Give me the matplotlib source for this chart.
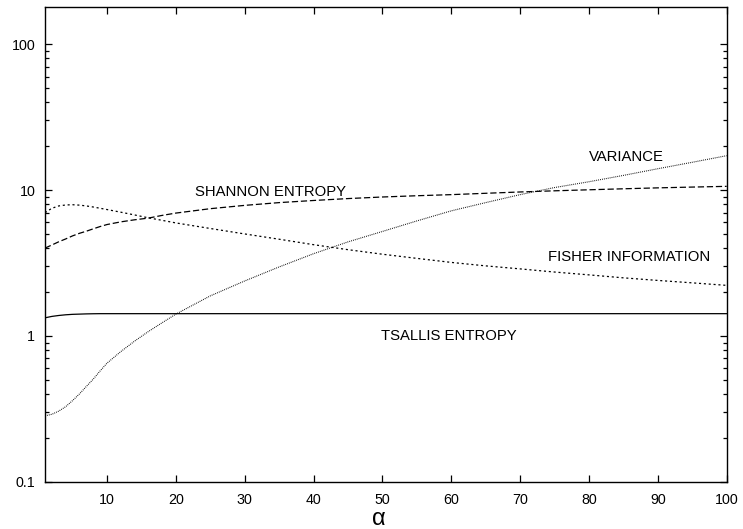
import matplotlib
matplotlib.use("Agg")
import matplotlib.pyplot as plt
from matplotlib.ticker import FixedLocator, FixedFormatter, LogLocator, NullFormatter

plt.rcParams['font.family'] = ['Liberation Sans', 'DejaVu Sans']
plt.rcParams['lines.scale_dashes'] = False

# alpha grid and the four measures
alpha = [1, 2, 3, 4, 5, 6, 7, 8, 9, 10, 12, 14, 16, 18, 20, 25, 30, 35, 40,
         45, 50, 55, 60, 65, 70, 75, 80, 85, 90, 95, 100]

tsallis = [1.33, 1.36, 1.38, 1.395, 1.405, 1.41, 1.415, 1.418, 1.42, 1.42,
           1.42, 1.42, 1.42, 1.42, 1.42, 1.42, 1.42, 1.42, 1.42, 1.42,
           1.42, 1.42, 1.42, 1.42, 1.42, 1.42, 1.42, 1.42, 1.42, 1.42, 1.42]

shannon = [4.0, 4.2, 4.42, 4.62, 4.85, 5.05, 5.22, 5.42, 5.62, 5.8, 6.05,
           6.25, 6.42, 6.7, 6.95, 7.45, 7.85, 8.2, 8.48, 8.74, 8.96,
           9.14, 9.3, 9.5, 9.7, 9.88, 10.04, 10.2, 10.35, 10.48, 10.6]

fisher = [7.0, 7.5, 7.78, 7.9, 7.93, 7.88, 7.78, 7.65, 7.5, 7.35, 7.05,
          6.75, 6.45, 6.2, 5.95, 5.45, 5.0, 4.6, 4.22, 3.9, 3.63,
          3.4, 3.19, 3.02, 2.88, 2.74, 2.62, 2.5, 2.4, 2.31, 2.22]

variance = [0.283, 0.29, 0.305, 0.327, 0.36, 0.40, 0.45, 0.505, 0.575, 0.65,
            0.78, 0.92, 1.07, 1.23, 1.41, 1.88, 2.38, 2.97, 3.66, 4.41, 5.2,
            6.14, 7.2, 8.2, 9.3, 10.4, 11.4, 12.6, 14.0, 15.5, 17.2]

xticks = [10, 20, 30, 40, 50, 60, 70, 80, 90, 100]
yticks = [0.1, 1, 10, 100]
ytick_labels = ["0.1", "1", "10", "100"]

fig = plt.figure(figsize=(7.43, 5.29), dpi=100)
ax = fig.add_axes([0.0606, 0.0894, 0.9174, 0.8974])

ax.plot(alpha, tsallis, color="black", lw=0.9, ls="-")
ax.plot(alpha, shannon, color="black", lw=0.9, dashes=(4.5, 2.0))
ax.plot(alpha, fisher, color="black", lw=0.9, dashes=(1.5, 2.0))
ax.plot(alpha, variance, color="black", lw=0.8, dashes=(0.6, 0.8))

ax.set_yscale("log")
ax.set_xlim(1, 100)
ax.set_ylim(0.1, 180)

ax.xaxis.set_major_locator(FixedLocator(xticks))
ax.yaxis.set_major_locator(FixedLocator(yticks))
ax.yaxis.set_major_formatter(FixedFormatter(ytick_labels))
ax.yaxis.set_minor_locator(LogLocator(base=10, subs=range(2, 10)))
ax.yaxis.set_minor_formatter(NullFormatter())

ax.tick_params(which="both", direction="in", top=True, right=True,
               labelsize=10.3, width=0.9)
ax.tick_params(axis="x", which="major", length=5, pad=8)
ax.tick_params(axis="y", which="major", length=5, pad=7)
ax.tick_params(which="minor", length=2.8)
for s in ax.spines.values():
    s.set_linewidth(1.0)

ax.set_xlabel("α", fontsize=17, labelpad=1)
ax.xaxis.label.set_x(0.49)

lab = dict(fontsize=10.7, ha="center", va="baseline")
ax.text(33.7, 9.14, "SHANNON ENTROPY", **lab)
ax.text(85.4, 15.7, "VARIANCE", **lab)
ax.text(85.8, 3.25, "FISHER INFORMATION", **lab)
ax.text(59.7, 0.94, "TSALLIS ENTROPY", **lab)

fig.savefig("out.png", dpi=100)
